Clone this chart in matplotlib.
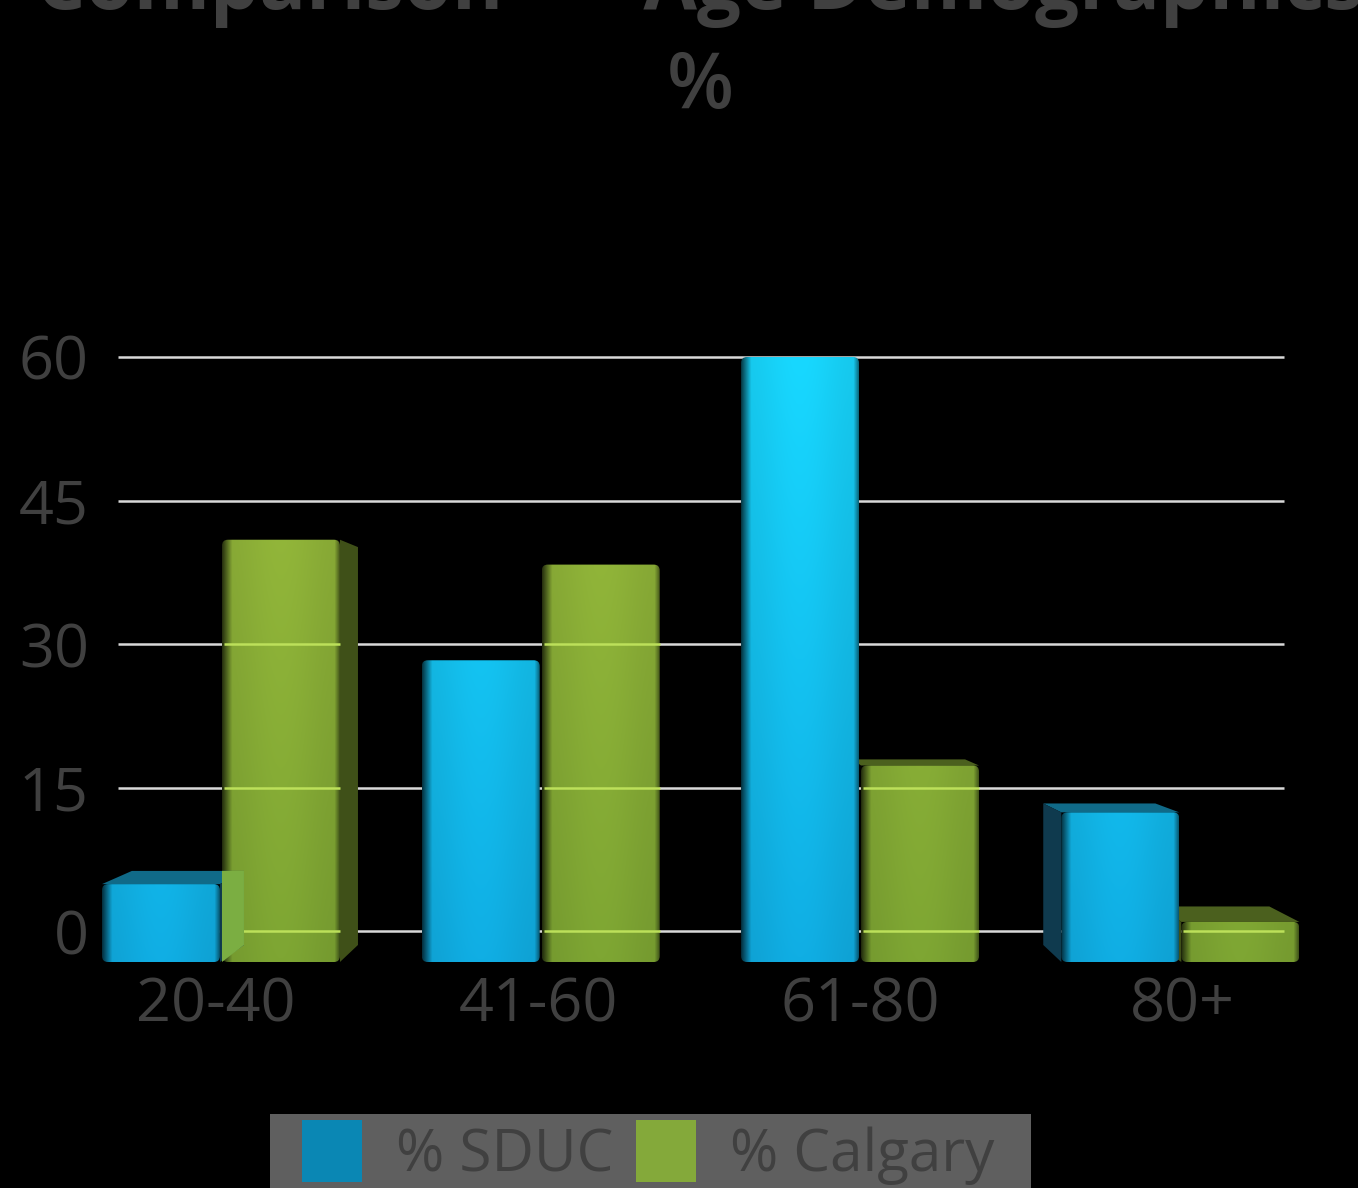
import numpy as np
import matplotlib
matplotlib.use('Agg')
import matplotlib.pyplot as plt
from matplotlib.patches import FancyBboxPatch, Patch, Polygon, Rectangle

categories = ['20-40', '41-60', '61-80', '80+']
sduc = [4.9, 28.3, 60.0, 12.4]
calgary = [40.9, 38.3, 17.3, 0.95]
yticks = [0, 15, 30, 45, 60]
series_names = ['% SDUC', '% Calgary']

plt.rcParams['font.family'] = ['Open Sans', 'DejaVu Sans']
TEXT = '#404040'
W, H = 1358, 1188

# scale of the data axes, pixels per data unit
PX_X = 322.3
PX_Y = 9.567
FLOOR = -3.24        # bars stand below the zero line
FLOOR_BACK = -1.46
VANISH_X = 1.502     # perspective
VANISH_K = 0.05
MIN_SIDE = 10 / PX_X # thinner sides are not seen
group_shift = [5, 2.5, -0.5, -2.5]
BAR_W = 118 / PX_X
BAR_OFF = 60 / PX_X

blue_ramp = (np.array([0x10, 0xae, 0xe4]), np.array([0x18, 0xd8, 0xff]))
green_ramp = (np.array([0x7e, 0xa6, 0x33]), np.array([0x9a, 0xbc, 0x3c]))

fig = plt.figure(figsize=(W / 100, H / 100), dpi=100, facecolor='black')
ax = fig.add_axes([118 / W, 1 - 962 / H, (1284 - 118) / W, (962 - 357) / H])
ax.set_facecolor('black')
for s in ax.spines.values():
    s.set_visible(False)


def draw_front(left, right, value, ramp, zorder):
    top_frac = (value - FLOOR) / (60 - FLOOR)
    ys = np.linspace(1, 0, 60)
    xs = np.linspace(0, 1, 120)
    px = xs * (right - left) * PX_X
    wpx = (right - left) * PX_X
    # dark at the left edge, falling off quickly on the right one
    prof = 0.93 + 0.07 * np.sin(np.pi * xs) ** 2
    prof = prof * (0.3 + 0.7 * np.clip(px / 10, 0, 1))
    prof = prof * (0.55 + 0.45 * np.clip((wpx - px) / 5, 0, 1))
    img = np.zeros((len(ys), len(xs), 3))
    for c in range(3):
        col = ramp[0][c] + (ramp[1][c] - ramp[0][c]) * ys[:, None] * top_frac
        img[:, :, c] = np.clip(col * prof[None, :] / 255, 0, 1)
    im = ax.imshow(img, extent=[left, right, FLOOR, value], aspect='auto',
                   zorder=zorder, interpolation='bilinear')
    clip = FancyBboxPatch((left, FLOOR), right - left, value - FLOOR,
                          boxstyle='round,pad=0,rounding_size=%f' % (6 / PX_X),
                          mutation_aspect=(1 / PX_Y) / (1 / PX_X),
                          transform=ax.transData, fc='none', ec='none', clip_on=False)
    ax.add_patch(clip)
    im.set_clip_path(clip)
    im.set_clip_box(fig.bbox)


def top_back_of(value):
    return value + 16 * (1 - value / 28.0) / PX_Y


def draw_bar(left, right, value, ramp, top_col, side_col, zorder):
    back_l = left + (VANISH_X - left) * VANISH_K
    back_r = right + (VANISH_X - right) * VANISH_K
    top_back = top_back_of(value)
    if top_back > value:
        ax.add_patch(Polygon([(left, value), (back_l, top_back), (back_r, top_back), (right, value)],
                             fc=top_col, ec='none', zorder=zorder, clip_on=False))
    if back_l < left - MIN_SIDE:
        ax.add_patch(Polygon([(left, value), (back_l, top_back), (back_l, FLOOR_BACK), (left, FLOOR)],
                             fc=side_col, ec='none', zorder=zorder, clip_on=False))
    if back_r > right + MIN_SIDE:
        ax.add_patch(Polygon([(right, value), (back_r, top_back), (back_r, FLOOR_BACK), (right, FLOOR)],
                             fc=side_col, ec='none', zorder=zorder, clip_on=False))
    draw_front(left, right, value, ramp, zorder + 0.1)


ax.hlines(yticks, -0.304, 3.314, color='#d9d9d9', lw=1.8, zorder=1, clip_on=False)

x = np.arange(len(categories))
for i in range(len(categories)):
    c = x[i] + group_shift[i] / PX_X
    gl, gr = c + BAR_OFF - BAR_W / 2, c + BAR_OFF + BAR_W / 2
    bl, br = c - BAR_OFF - BAR_W / 2, c - BAR_OFF + BAR_W / 2
    draw_bar(gl, gr, calgary[i], green_ramp, '#4b601e', '#3f5018', 2)
    # grid shows through the green front
    shown = [t for t in yticks if t <= calgary[i]]
    ax.hlines(shown, gl + 2 / PX_X, min(gr, 3.314), color='#bce05a', lw=1.8, zorder=2.5, clip_on=False)
    draw_bar(bl, br, sduc[i], blue_ramp, '#106a88', '#0f3a4e', 3)
    back_r = br + (VANISH_X - br) * VANISH_K
    if back_r > br + MIN_SIDE:
        # side of the blue bar seen through the green one
        top_back = top_back_of(sduc[i])
        ax.add_patch(Polygon([(gl, top_back), (back_r, top_back), (back_r, FLOOR_BACK), (gl, FLOOR)],
                             fc='#7bae42', ec='none', zorder=5, clip_on=False))

ax.set_xlim(-0.304, 3.314)
ax.set_ylim(FLOOR, 60)
ax.set_xticks(x)
ax.set_xticklabels(categories)
ax.set_yticks(yticks)
ax.tick_params(axis='both', length=0, labelsize=44, labelcolor=TEXT)
ax.tick_params(axis='x', pad=10)
ax.tick_params(axis='y', pad=21)

fig.text(699 / W, 1 - 9 / H, 'Comparison   \u2013  Age Demographics', ha='center', va='baseline',
         fontsize=56, fontweight='bold', color=TEXT)
fig.text(700 / W, 1 - 108 / H, '%', ha='center', va='baseline', fontsize=56, fontweight='semibold', color=TEXT)

fig.add_artist(Rectangle((270 / W, 0), 761 / W, 74 / H, transform=fig.transFigure,
                         fc='#5f5f5f', ec='none', zorder=4))
handles = [Patch(fc='#0a87b4', ec='none'), Patch(fc='#84a93a', ec='none')]
leg = fig.legend(handles, series_names, loc='lower left', bbox_to_anchor=(302 / W, 3 / H), ncol=2,
                 fontsize=42, frameon=False, handlelength=1.03, handleheight=1.26, handletextpad=0.58,
                 columnspacing=0.39, borderpad=0, borderaxespad=0)
leg.set_zorder(6)
for t in leg.get_texts():
    t.set_color(TEXT)

fig.savefig('out.png', dpi=100, facecolor='black')
